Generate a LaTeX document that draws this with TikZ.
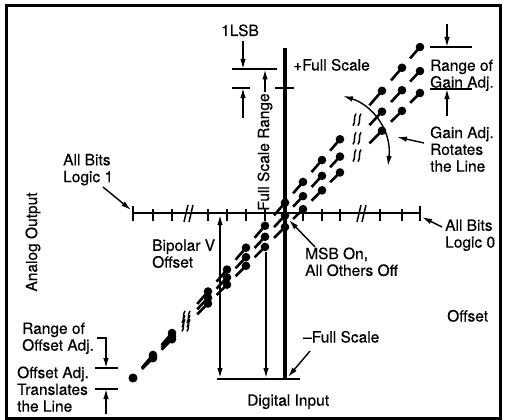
\documentclass[tikz,border=0pt]{standalone}
\usepackage{fontspec}
\setmainfont{TeX Gyre Heros}[FakeBold=0.35]
\usetikzlibrary{arrows.meta,calc}
\newcommand\lblfont{\fontsize{15.5}{16.8}\selectfont}
\begin{document}
\begin{tikzpicture}[x=1pt,y=-1pt,
  lbl/.style={inner sep=0pt,font=\lblfont,align=left,anchor=north west},
  sgl/.style={inner sep=0pt,font=\lblfont,anchor=base west},
  arr/.style={line width=1.4pt,-{Latex[length=10pt,width=5.5pt]}},
  darr/.style={line width=1.4pt,{Latex[length=10pt,width=5.5pt]}-{Latex[length=10pt,width=5.5pt]}},
  thinline/.style={line width=1.6pt},
  tickmark/.style={line width=1.5pt},
  dashseg/.style={line width=2.6pt},
  brk/.style={line width=1.5pt}]
\useasboundingbox (0,0) rectangle (506,420);
\fill[white] (0,0) rectangle (506,420);
\draw[line width=3pt] (6.5,5.5) rectangle (500.5,418);

% axes
\coordinate (vtop) at (285,48);
\coordinate (vbot) at (285,379);
\coordinate (axL) at (133,213);
\coordinate (axR) at (420,213);
\draw[line width=3.5pt] (vtop) -- (vbot);
\draw[line width=2.6pt] (axL) -- (axR);
\draw[line width=1.8pt] (133,206) -- (133,221) (420,206) -- (420,221);
\foreach \x in {153,172,208,227,246,265,303,322,340,380,402}
  \draw[tickmark] (\x,209) -- (\x,221);
\foreach \x in {187,360}
  \draw[brk] (\x-3,222) -- (\x+1,205) (\x+2,222) -- (\x+6,205);

% +Full Scale tick and bottom line
\draw[thinline] (275,88) -- (294,88);
\draw[thinline] (217,379) -- (300,379);

% transfer lines
\foreach \s in {1.1533,1.0697,0.993}{
  \foreach \xa/\xb/\f in {133/153/0.45,153/172/0.45,172/208/0.7,208/227/0.45,227/246/0.45,246/265/0.45,265/285/0.45,285/303/0.45,303/322/0.45,322/340/0.45,340/382/0.7,382/402/0.45,402/420/0.45}{
    \pgfmathsetmacro\xs{\xa+\f*(\xb-\xa)}
    \draw[dashseg] (\xs,{378-\s*(\xs-133)}) -- (\xb,{378-\s*(\xb-133)});
  }
  \foreach \x in {133,153,172,208,227,246,265,285,303,322,340,382,402,420}
    \fill (\x,{378-\s*(\x-133)}) circle (4.3pt);
  \foreach \x in {186,357}
    \draw[brk,shift={(\x,{378-\s*(\x-133)})}] (-4,6) .. controls (-1,2) and (-4,-2) .. (-1,-6) (1,6) .. controls (4,2) and (1,-2) .. (4,-6);
}

% 1LSB
\node[sgl,anchor=base] (lsb) at (240,36) {1LSB};
\draw[thinline] (232,69) -- (277,69);
\draw[thinline] (232,88) -- (250,88);
\coordinate (lsbA) at (243,41);
\coordinate (lsbAe) at (243,69);
\coordinate (lsbB) at (243,118);
\coordinate (lsbBe) at (243,88);
\draw[arr] (lsbA) -- (lsbAe);
\draw[arr] (lsbB) -- (lsbBe);

% Full scale range
\node[inner sep=0pt,font=\lblfont,rotate=90] (fsr) at (265,152) {Full Scale Range};
\coordinate (fsrE) at (265,69.5);
\draw[arr] (fsr.east) ++(0,-1) -- (fsrE);

\node[sgl] (pfs) at (293,70.5) {+Full Scale};

% Range of gain adj
\node[lbl] (rga) at (430,59.3) {Range of\\Gain Adj.};
\draw[thinline] (430,47) -- (472,47);
\draw[thinline] (430,89) -- (472,89);
\coordinate (rgA) at (447,24);
\coordinate (rgAe) at (447,47);
\coordinate (rgB) at (447,116);
\coordinate (rgBe) at (447,89);
\draw[arr] (rgA) -- (rgAe);
\draw[arr] (rgB) -- (rgBe);

% gain rotation arc
\coordinate (arcA) at (343,96);
\coordinate (arcB) at (388,166);
\draw[darr] (arcA) .. controls (372,105) and (392,130) .. (arcB);

\node[lbl] (gar) at (430,126.3) {Gain Adj.\\Rotates\\the Line};
\coordinate (garS) at (424,143);
\coordinate (garE) at (397,137);
\draw[arr] (garS) -- (garE);

% All bits logic 1 / 0
\node[lbl] (ab1) at (63,153.8) {All Bits\\Logic 1};
\coordinate (ab1S) at (103,187);
\coordinate (ab1E) at (131,210);
\draw[arr] (ab1S) -- (ab1E);

\node[lbl] (ab0) at (445,219.3) {All Bits\\Logic 0};
\coordinate (ab0S) at (442,227);
\coordinate (ab0E) at (422,217);
\draw[arr] (ab0S) -- (ab0E);

% MSB
\node[lbl] (msb) at (305,247.3) {MSB On,\\All Others Off};
\coordinate (msbS) at (315,247);
\coordinate (msbE) at (289,220);
\draw[arr] (msbS) -- (msbE);

\node[sgl] (off) at (447,321.5) {Offset};
\node[sgl] (mfs) at (303,342.5) {--Full Scale};
\coordinate (mfsS) at (310,351);
\coordinate (mfsE) at (288,377);
\draw[arr] (mfsS) -- (mfsE);

\node[sgl] (din) at (247,405.7) {Digital Input};

% Bipolar offset
\node[lbl] (bvo) at (152,239.3) {Bipolar V\\Offset};
\coordinate (bvA) at (220,215);
\coordinate (bvB) at (220,378);
\draw[darr] (bvA) -- (bvB);
\coordinate (msA) at (266,252);
\coordinate (msB) at (266,378);
\draw[arr] (msA) -- (msB);

% Analog output
\node[inner sep=0pt,font=\lblfont,rotate=90] (aout) at (33,242) {Analog Output};

% Offset adj
\node[lbl] (roa) at (22,322.3) {Range of\\Offset Adj.};
\node[lbl] (oat) at (17,366.3) {Offset Adj.\\Translates\\the Line};
\draw[thinline] (95,368) -- (118,368);
\draw[thinline] (95,389) -- (118,389);
\coordinate (roaS) at (97,338);
\coordinate (roaE) at (106,368);
\draw[arr] (roaS) -| (roaE);
\coordinate (oaB) at (106,414);
\coordinate (oaBe) at (106,389);
\draw[arr] (oaB) -- (oaBe);
\end{tikzpicture}
\end{document}
